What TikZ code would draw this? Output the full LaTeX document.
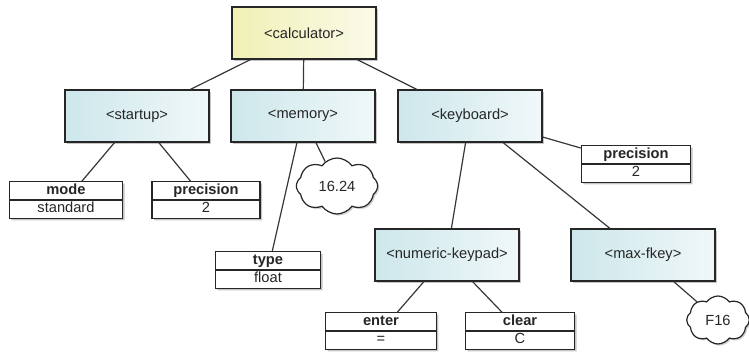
\documentclass[tikz,border=0pt]{standalone}
\usepackage{fontspec}
\setmainfont{Liberation Sans}
\usetikzlibrary{shapes.multipart,shapes.symbols,shadows}
\definecolor{elemblue}{RGB}{205,231,235}
\definecolor{rootyellow}{RGB}{240,240,182}
\definecolor{linkgray}{RGB}{55,55,55}

\begin{document}
\begin{tikzpicture}[x=0.75pt, y=-0.75pt,
  elem/.style={draw=black!85, line width=0.9pt, minimum width=108pt,
               minimum height=39pt, left color=#1, right color=#1!30,
               font=\fontsize{11}{12}\selectfont, text=black!85,
               drop shadow={opacity=0.45, shadow xshift=1.5pt, shadow yshift=-1.5pt}},
  elem/.default=elemblue,
  attr/.style={draw=black!85, line width=0.9pt, rectangle split,
               rectangle split parts=2, fill=white, text width=#1,
               align=center, inner xsep=0pt, inner ysep=0.4pt,
               font=\fontsize{11}{12}\selectfont, text=black!85,
               drop shadow={opacity=0.45, shadow xshift=1.5pt, shadow yshift=-1.5pt}},
  attr/.default=82pt,
  val/.style={draw=black!85, line width=0.9pt, cloud, cloud puffs=8,
              cloud puff arc=110, cloud ignores aspect, fill=white, inner sep=0pt,
              font=\fontsize{11}{12}\selectfont, text=black!85,
              drop shadow={opacity=0.35, shadow xshift=1.2pt, shadow yshift=-1.2pt}},
  link/.style={draw=linkgray, line width=0.9pt}
]
  \useasboundingbox (0,0) rectangle (749,352);

  % Elements
  \node[elem=rootyellow] (calc)    at (304,33)  {<calculator>};
  \node[elem]            (startup) at (137,116) {<startup>};
  \node[elem]            (memory)  at (303,116) {<memory>};
  \node[elem]            (keyb)    at (470,116) {<keyboard>};
  \node[elem]            (numpad)  at (447,255) {<numeric-keypad>};
  \node[elem]            (maxfkey) at (643,255) {<max-fkey>};

  % Attributes
  \node[attr=85pt] (mode)  at (66,200)  {\strut\textbf{mode}\nodepart{two}\strut standard};
  \node[attr=81pt] (precs) at (206,200) {\strut\textbf{precision}\nodepart{two}\strut 2};
  \node[attr]      (preck) at (636,164) {\strut\textbf{precision}\nodepart{two}\strut 2};
  \node[attr=79pt] (type)  at (268,270) {\strut\textbf{type}\nodepart{two}\strut float};
  \node[attr=83pt] (enter) at (381,331) {\strut\textbf{enter}\nodepart{two}\strut =};
  \node[attr]      (clear) at (520,331) {\strut\textbf{clear}\nodepart{two}\strut C};

  % Text values
  \node[val, minimum width=61pt, minimum height=42pt] (memval) at (337,186) {16.24};
  \node[val, minimum width=47pt, minimum height=36pt] (fkval)  at (718,320) {F16};

  % Connectors
  \draw[link] (calc) -- (startup);
  \draw[link] (calc) -- (memory);
  \draw[link] (calc) -- (keyb);
  \draw[link] (startup) -- (mode);
  \draw[link] (startup) -- (precs);
  \draw[link] (memory) -- (type);
  \draw[link] (memory) -- (memval);
  \draw[link] (keyb) -- (preck);
  \draw[link] (keyb) -- (numpad);
  \draw[link] (keyb) -- (maxfkey);
  \draw[link] (numpad) -- (enter);
  \draw[link] (numpad) -- (clear);
  \draw[link] (maxfkey) -- (fkval);
\end{tikzpicture}
\end{document}
